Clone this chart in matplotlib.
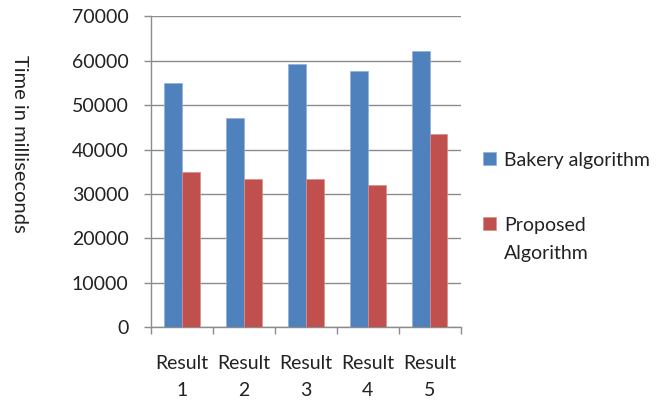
import numpy as np
import matplotlib.pyplot as plt
from matplotlib.patches import Rectangle
from matplotlib.legend_handler import HandlerPatch

categories = ['Result\n1', 'Result\n2', 'Result\n3', 'Result\n4', 'Result\n5']
bakery = [55000, 47000, 59200, 57600, 62100]
proposed = [35000, 33300, 33300, 32000, 43600]
series_names = ['Bakery algorithm', 'Proposed\nAlgorithm']

plt.rcParams['font.family'] = ['Lato', 'DejaVu Sans']
plt.rcParams['font.size'] = 14

fig = plt.figure(figsize=(6.62, 4.07), dpi=100)
ax = fig.add_axes([0.228, 0.196, 0.468, 0.764])

x = np.arange(len(categories))
w = 0.2857
b1 = ax.bar(x - w / 2, bakery, w, color='#4F81BD', edgecolor='#8FB0DA', linewidth=0.5, zorder=3)
b2 = ax.bar(x + w / 2, proposed, w, color='#C0504D', edgecolor='#DA8F8D', linewidth=0.5, zorder=3)

ax.set_xlim(-0.5, len(categories) - 0.5)
ax.set_ylim(0, 70000)
ax.set_yticks(np.arange(0, 70001, 10000))
ax.yaxis.grid(True, color='#8C8C8C', linewidth=1.0, zorder=0)

ax.set_xticks(x)
ax.set_xticklabels(categories, linespacing=1.7, color='#222222')
ax.set_xticks(np.arange(-0.5, len(categories)), minor=True)
ax.tick_params(axis='x', which='major', length=0, pad=20)
ax.tick_params(axis='x', which='minor', length=5, color='#8C8C8C', width=1)
ax.tick_params(axis='y', length=5, color='#8C8C8C', width=1, pad=11, labelcolor='#222222')

for s in ['top', 'right']:
    ax.spines[s].set_visible(False)
for s in ['left', 'bottom']:
    ax.spines[s].set_color('#8C8C8C')
    ax.spines[s].set_linewidth(1)

fig.text(0.030, 0.646, 'Time in milliseconds', rotation=270, ha='center', va='center',
         color='#222222', fontsize=14.5)


# keep the swatch level with the first line of a two-line label
def top_line_patch(legend, orig_handle, xdescent, ydescent, width, height, fontsize):
    return Rectangle((-xdescent, -ydescent + 0.85 * fontsize), width, height)


h1, h2 = b1.patches[0], b2.patches[0]
leg = ax.legend([h1, h2], series_names, loc='upper left', bbox_to_anchor=(1.048, 0.59),
                frameon=False, handlelength=0.65, handleheight=0.65, handletextpad=0.4,
                labelspacing=2.5, borderaxespad=0, labelcolor='#222222',
                handler_map={h2: HandlerPatch(patch_func=top_line_patch)})
for t in leg.get_texts():
    t.set_linespacing(1.75)

fig.savefig('out.png', dpi=100)
